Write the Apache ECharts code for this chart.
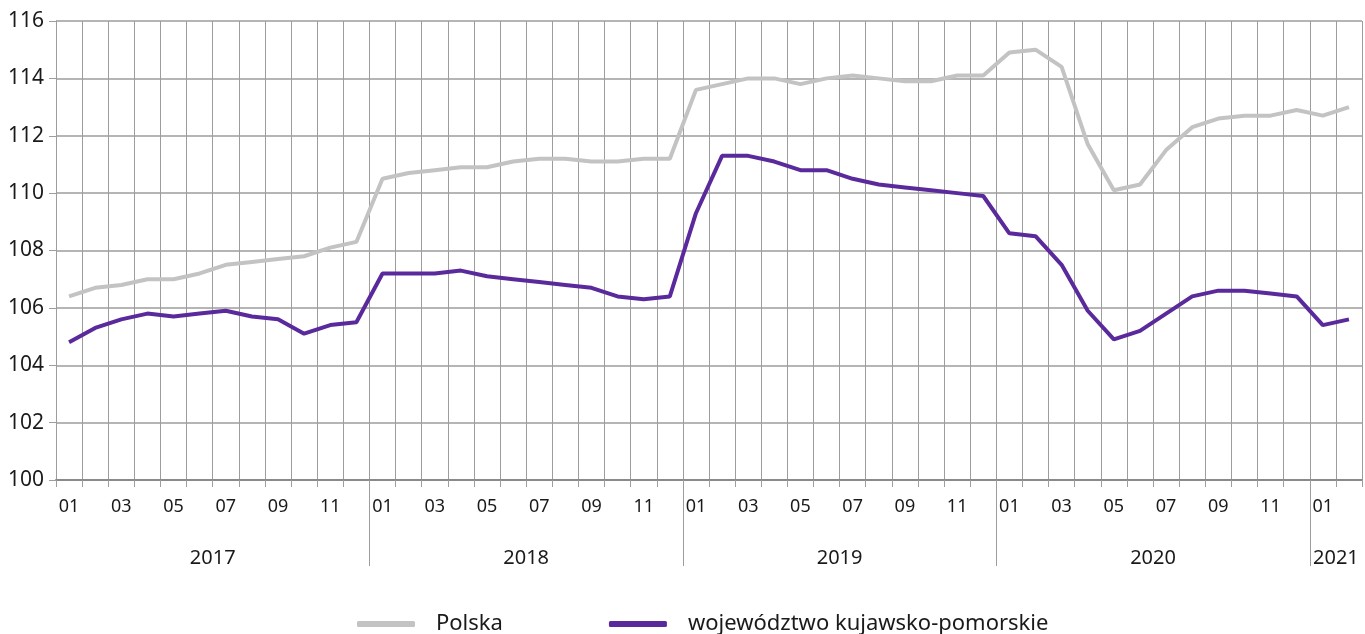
<!DOCTYPE html>
<html>
<head>
<meta charset="utf-8">
<script src="https://cdn.jsdelivr.net/npm/echarts@6/dist/echarts.min.js"></script>
<style>
  html, body { margin: 0; padding: 0; background: #fff; overflow: hidden; }
  #chart { width: 1365px; height: 634px; }
</style>
</head>
<body>
<div id="chart"></div>
<script>
// miesiące 2017-01 .. 2021-02
const categories = [
  '2017-01','2017-02','2017-03','2017-04','2017-05','2017-06','2017-07','2017-08','2017-09','2017-10','2017-11','2017-12',
  '2018-01','2018-02','2018-03','2018-04','2018-05','2018-06','2018-07','2018-08','2018-09','2018-10','2018-11','2018-12',
  '2019-01','2019-02','2019-03','2019-04','2019-05','2019-06','2019-07','2019-08','2019-09','2019-10','2019-11','2019-12',
  '2020-01','2020-02','2020-03','2020-04','2020-05','2020-06','2020-07','2020-08','2020-09','2020-10','2020-11','2020-12',
  '2021-01','2021-02'
];

const polska = [
  106.4, 106.7, 106.8, 107.0, 107.0, 107.2, 107.5, 107.6, 107.7, 107.8, 108.1, 108.3,
  110.5, 110.7, 110.8, 110.9, 110.9, 111.1, 111.2, 111.2, 111.1, 111.1, 111.2, 111.2,
  113.6, 113.8, 114.0, 114.0, 113.8, 114.0, 114.1, 114.0, 113.9, 113.9, 114.1, 114.1,
  114.9, 115.0, 114.4, 111.7, 110.1, 110.3, 111.5, 112.3, 112.6, 112.7, 112.7, 112.9,
  112.7, 113.0
];

const kujawskoPomorskie = [
  104.8, 105.3, 105.6, 105.8, 105.7, 105.8, 105.9, 105.7, 105.6, 105.1, 105.4, 105.5,
  107.2, 107.2, 107.2, 107.3, 107.1, 107.0, 106.9, 106.8, 106.7, 106.4, 106.3, 106.4,
  109.3, 111.3, 111.3, 111.1, 110.8, 110.8, 110.5, 110.3, 110.2, 110.1, 110.0, 109.9,
  108.6, 108.5, 107.5, 105.9, 104.9, 105.2, 105.8, 106.4, 106.6, 106.6, 106.5, 106.4,
  105.4, 105.6
];

const seriesNames = ['Polska', 'województwo kujawsko-pomorskie'];

const FONT = "'Noto Sans', sans-serif";
const GRID_COLOR = '#9d9d9d';

// oś lat: pozycje na granicach miesięcy (0..N)
const years = [];
categories.forEach((c, i) => {
  const y = c.slice(0, 4);
  const last = years[years.length - 1];
  if (!last || last.year !== y) years.push({ year: y, first: i, count: 1 });
  else last.count++;
});
const boundaryData = new Array(categories.length + 1).fill('');
const yearStarts = new Set();
years.forEach((y, k) => {
  boundaryData[y.first + y.count / 2] = y.year;
  if (k > 0) yearStarts.add(y.first);
});

const chart = echarts.init(document.getElementById('chart'));

const option = {
  animation: false,
  textStyle: { fontFamily: FONT },
  grid: { left: 56, right: -3, top: 21, bottom: 154, containLabel: false },
  legend: {
    left: 352,
    top: 608,
    itemWidth: 58,
    itemHeight: 6,
    itemGap: 106,
    icon: 'roundRect',
    textStyle: { fontSize: 22, color: '#1a1a1a', fontFamily: FONT, padding: [0, 0, 0, 16] },
    data: seriesNames
  },
  xAxis: [
    {
      type: 'category',
      position: 'bottom',
      data: categories,
      boundaryGap: true,
      axisLine: { show: true, lineStyle: { color: '#8a8a8a', width: 2 } },
      axisTick: { show: true, interval: 0, length: 7, lineStyle: { color: GRID_COLOR } },
      splitLine: { show: true, interval: 0, lineStyle: { color: GRID_COLOR, width: 1 } },
      axisLabel: {
        interval: (i) => i % 2 === 0,
        formatter: (v) => v.slice(5),
        fontSize: 18,
        color: '#1a1a1a',
        margin: 18
      }
    },
    {
      type: 'category',
      position: 'bottom',
      data: boundaryData,
      boundaryGap: false,
      axisLine: { show: false },
      axisTick: {
        show: true,
        interval: (i) => yearStarts.has(i),
        length: 86,
        lineStyle: { color: GRID_COLOR }
      },
      splitLine: { show: false },
      axisLabel: {
        interval: 0,
        fontSize: 20,
        color: '#1a1a1a',
        margin: 68
      }
    }
  ],
  yAxis: {
    type: 'value',
    min: 100,
    max: 116,
    interval: 2,
    axisLine: { show: true, lineStyle: { color: GRID_COLOR } },
    axisTick: { show: true, length: 7, lineStyle: { color: GRID_COLOR } },
    splitLine: { show: true, lineStyle: { color: GRID_COLOR, width: 1.5 } },
    axisLabel: { fontSize: 21, color: '#1a1a1a', margin: 12 }
  },
  series: [
    {
      name: seriesNames[0],
      type: 'line',
      data: polska,
      showSymbol: false,
      symbol: 'none',
      lineStyle: { color: '#c3c3c3', width: 4 },
      itemStyle: { color: '#c3c3c3' }
    },
    {
      name: seriesNames[1],
      type: 'line',
      data: kujawskoPomorskie,
      showSymbol: false,
      symbol: 'none',
      lineStyle: { color: '#5a2a9c', width: 4 },
      itemStyle: { color: '#5a2a9c' }
    }
  ]
};

chart.setOption(option);
window.addEventListener('resize', () => chart.resize());
</script>
</body>
</html>
